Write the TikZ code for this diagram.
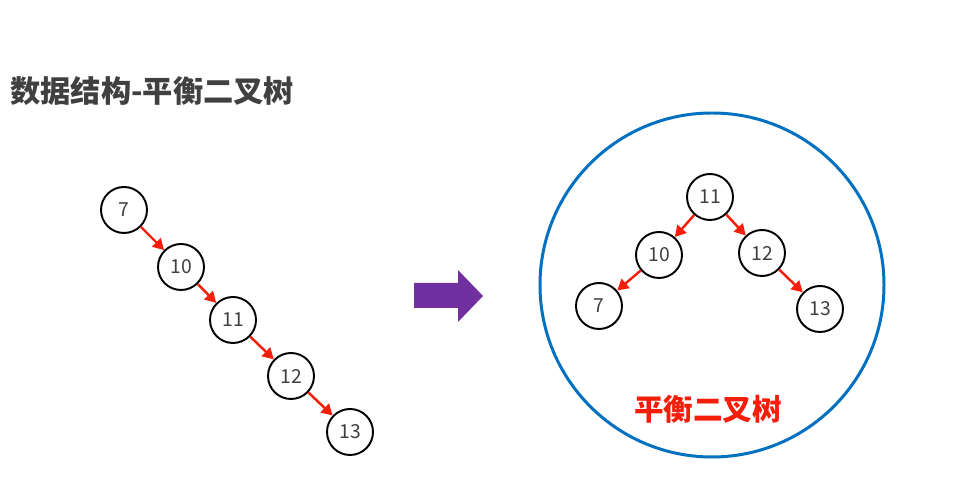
\documentclass[tikz,border=0pt]{standalone}
\usepackage{fontspec}
\setmainfont{Noto Sans CJK SC}
\usetikzlibrary{arrows.meta}
\definecolor{titlegray}{RGB}{64,64,64}
\definecolor{ringblue}{RGB}{0,112,192}
\definecolor{shiftpurple}{RGB}{112,48,160}
\definecolor{linkred}{RGB}{245,30,10}
\tikzset{
  key/.style={circle,draw=black,line width=1.1pt,minimum size=0.92cm,inner sep=0pt,text=titlegray,font=\fontsize{11}{13}\selectfont},
  link/.style={linkred,line width=1.4pt,-{Triangle[length=0.22cm,width=0.24cm]}}
}

\begin{document}
\begin{tikzpicture}
  \useasboundingbox[fill=white] (0,0) rectangle (19.5,10.02);
  % title
  \node[anchor=west,text=titlegray,font=\fontsize{17.2}{20}\selectfont\bfseries,inner sep=0pt] (title) at (0.20,8.20) {数据结构-平衡二叉树};
  % unbalanced chain
  \foreach \x/\y/\k [count=\n] in {2.48/5.82/7, 3.62/4.68/10, 4.66/3.62/11, 5.82/2.50/12, 7.00/1.38/13} {
    \node[key] (l\n) at (\x,\y) {\k};
  }
  \foreach \a/\b in {1/2,2/3,3/4,4/5} { \draw[link] (l\a) -- (l\b); }
  % arrow between
  \fill[shiftpurple] (8.28,4.36) -- (9.16,4.36) -- (9.16,4.62) -- (9.66,4.10) -- (9.16,3.58) -- (9.16,3.86) -- (8.28,3.86) -- cycle;
  % balanced tree
  \draw[ringblue,line width=1.7pt] (14.24,4.32) circle (3.44);
  \node[key] (r11) at (14.20,6.08) {11};
  \node[key] (r10) at (13.18,4.92) {10};
  \node[key] (r12) at (15.24,4.96) {12};
  \node[key] (r7) at (11.98,3.90) {7};
  \node[key] (r13) at (16.40,3.84) {13};
  \draw[link] (r11) -- (r10);
  \draw[link] (r11) -- (r12);
  \draw[link] (r10) -- (r7);
  \draw[link] (r12) -- (r13);
  \node[text=linkred,font=\fontsize{16.8}{20}\selectfont\bfseries,inner sep=0pt] (caption) at (14.16,1.84) {平衡二叉树};
\end{tikzpicture}
\end{document}
